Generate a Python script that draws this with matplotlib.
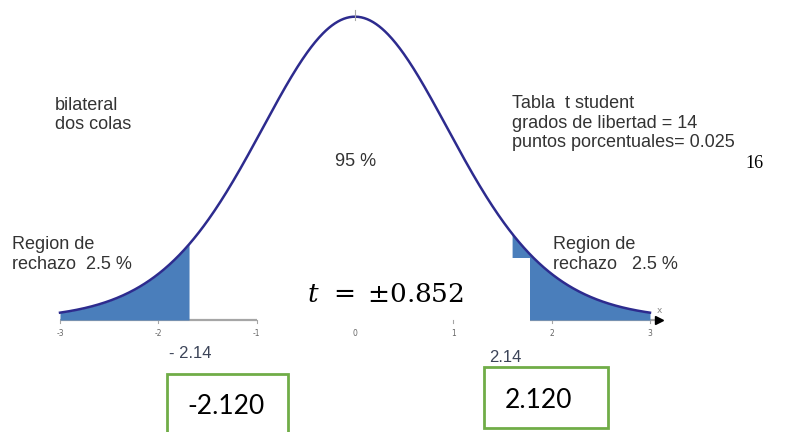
import math
import numpy as np
import matplotlib
matplotlib.use("Agg")
import matplotlib.pyplot as plt
from matplotlib.patches import Rectangle

# ---- data ----
df_libertad = 14
t_min, t_max = -3, 3
left_cut = -1.68          # where the left shaded tail ends (as drawn)
right_cut = 1.59          # where the right shaded tail starts (as drawn)
right_white_end = 1.78    # white patch covering part of right tail
right_white_top = 0.080
tick_values = [-3, -2, -1, 0, 1, 2, 3]
tick_labels = ["-3", "-2", "-1", "0", "1", "2", "3"]
crit_labels = ["- 2.14", "2.14"]
box_labels = ["-2.120", "2.120"]
centre_pct = "95 %"
tail_pct = "2.5 %"

W, H = 798, 432
fig = plt.figure(figsize=(W / 100, H / 100), dpi=100)
px_per_unit_x = 98.33
x0_px = 355
px_per_unit_y = 774.0
y0_px = 320
ax = fig.add_axes([0, 0, 1, 1])
ax.set_xlim((0 - x0_px) / px_per_unit_x, (W - x0_px) / px_per_unit_x)
ax.set_ylim(-(H - y0_px) / px_per_unit_y, y0_px / px_per_unit_y)
ax.axis("off")


def t_pdf(x, v):
    c = math.gamma((v + 1) / 2) / (math.sqrt(v * math.pi) * math.gamma(v / 2))
    return c * (1 + x ** 2 / v) ** (-(v + 1) / 2)


t = np.linspace(t_min, t_max, 600)
y = t_pdf(t, df_libertad)

fill_c = "#4a7ebb"
curve_c = "#2d2b8e"
grey = "#a6a6a6"
txt_c = "#333333"

# axis segments
ax.plot([t_min, -1], [0, 0], color=grey, lw=1.6, zorder=1, solid_capstyle="butt")
ax.plot([right_white_end, 3.08], [0, 0], color=grey, lw=1.6, zorder=1)
ax.plot([3.09], [0], marker=">", color="black", markersize=6, zorder=3)
for tv, tl in zip(tick_values, tick_labels):
    if tv != 0:
        ax.plot([tv, tv], [0, -0.004], color=grey, lw=0.8, zorder=1)
    ax.text(tv, -0.018, tl, ha="center", va="center", fontsize=5.5, color="#666666")
ax.text(3.1, 0.012, "x", ha="center", va="center", fontsize=6.5, color="#888888")

# shaded tails
m = t <= left_cut
ax.fill_between(t[m], 0, y[m], color=fill_c, lw=0, zorder=2)
m = t >= right_cut
ax.fill_between(t[m], 0, y[m], color=fill_c, lw=0, zorder=2)
ax.add_patch(Rectangle((right_cut - 0.01, -0.003), right_white_end - right_cut + 0.01,
                       right_white_top + 0.003, facecolor="white", edgecolor="none", zorder=2.5))

# curve
ax.plot(t, y, color=curve_c, lw=1.8, zorder=4)
ax.plot([0, 0], [y.max() - 0.004, y.max() + 0.008], color=grey, lw=0.8, zorder=5)


def ftext(px, py, s, **kw):
    fig.text(px / W, 1 - py / H, s, **kw)


sans = "Liberation Sans"
fs = 13
ftext(55, 97, "bilateral\ndos colas", fontsize=fs, family=sans, color=txt_c,
      va="top", ha="left", linespacing=1.15)
ftext(335, 161, centre_pct, fontsize=fs, family=sans, color=txt_c, va="center", ha="left")
ftext(512, 95, "Tabla  t student\ngrados de libertad = 14\npuntos porcentuales= 0.025",
      fontsize=fs, family=sans, color=txt_c, va="top", ha="left", linespacing=1.2)
ftext(745, 163, "16", fontsize=13, family="Liberation Serif", color="black",
      va="center", ha="left")
ftext(12, 236, "Region de\nrechazo  " + tail_pct, fontsize=fs, family=sans, color=txt_c,
      va="top", ha="left", linespacing=1.2)
ftext(553, 236, "Region de\nrechazo   " + tail_pct, fontsize=fs, family=sans, color=txt_c,
      va="top", ha="left", linespacing=1.2)

plt.rcParams["mathtext.fontset"] = "dejavuserif"
ftext(385, 302, r"$t\;\,=\;{\pm}0.852$", fontsize=19, color="black", ha="center",
      va="baseline")

ftext(190, 354, crit_labels[0], fontsize=12, family=sans, color="#3c4458",
      ha="center", va="center")
ftext(505, 357, crit_labels[1], fontsize=12, family=sans, color="#3c4458",
      ha="center", va="center")

green = "#70ad47"
fig.patches.append(Rectangle((167 / W, 1 - 440 / H), (288 - 167) / W, (440 - 374) / H,
                             transform=fig.transFigure, facecolor="none", edgecolor=green,
                             lw=2, zorder=6))
fig.patches.append(Rectangle((484 / W, 1 - 428 / H), (608 - 484) / W, (428 - 367) / H,
                             transform=fig.transFigure, facecolor="none", edgecolor=green,
                             lw=2, zorder=6))
ftext(226, 414, box_labels[0], fontsize=19, family="Lato", color="black",
      ha="center", va="baseline")
ftext(538, 408, box_labels[1], fontsize=19, family="Lato", color="black",
      ha="center", va="baseline")

fig.savefig("out.png", dpi=100)
